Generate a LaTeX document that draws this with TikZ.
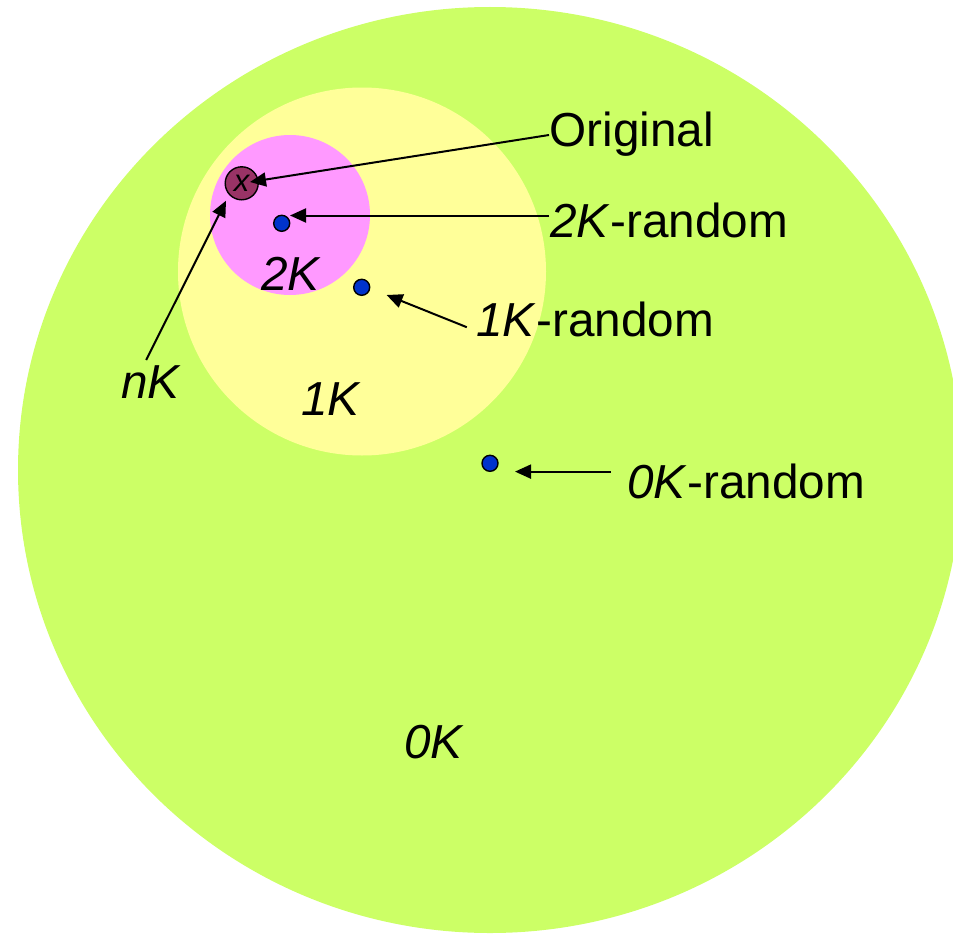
\documentclass[tikz,border=0pt]{standalone}
\usepackage{fontspec}
\setmainfont{Liberation Sans}
\usetikzlibrary{arrows.meta}
\definecolor{zoneO}{HTML}{CCFF66}
\definecolor{zoneI}{HTML}{FFFF99}
\definecolor{zoneII}{HTML}{FF99FF}
\definecolor{origfill}{HTML}{993366}
\definecolor{dotblue}{HTML}{0033CC}
\tikzset{
  lbl/.style={inner sep=0pt, anchor=base west, font=\fontsize{47.7}{57}\selectfont},
  sample/.style={circle, draw=black, line width=1.4pt, fill=dotblue, minimum size=16pt, inner sep=0pt},
  pointer/.style={draw=black, line width=2pt, -{Triangle[length=16pt,width=14pt]}},
}
\begin{document}
\begin{tikzpicture}[x=1pt,y=-1pt]
  \useasboundingbox (0,0) rectangle (953,934);
  \begin{scope}
    \clip (0,0) rectangle (953,934);
    % nested neighbourhoods
    \fill[zoneO] (490,470) ellipse [x radius=472, y radius=463];
    \fill[zoneI] (362,271.5) circle [radius=184];
    \fill[zoneII] (290,215) circle [radius=80];
  \end{scope}

  % original point and random samples
  \node[circle, draw=black, line width=1.4pt, fill=origfill, minimum size=33pt, inner sep=0pt,
        font=\fontsize{31}{34}\selectfont\itshape] (orig) at (241.7,183.3) {x};
  \node[sample] (r2) at (281.7,223.3) {};
  \node[sample] (r1) at (361.7,287.3) {};
  \node[sample] (r0) at (490,463.3) {};

  % zone names
  \node[lbl] (z2) at (261,290.7) {\itshape 2K};
  \node[lbl] (z1) at (301,415.7) {\itshape 1K};
  \node[lbl] (z0) at (404,758.6) {\itshape 0K};

  % callouts
  \node[lbl] (tOrig) at (549.5,146.7) {Original};
  \node[lbl] (t2) at (550,237.7) {\textit{2K}-random};
  \node[lbl] (t1) at (476,336.3) {\textit{1K}-random};
  \node[lbl] (t0) at (627,498.4) {\textit{0K}-random};
  \node[lbl] (tn) at (121,398.8) {\itshape nK};

  % connector end points
  \coordinate (sOrig) at (549,135);
  \coordinate (eOrig) at (250,182);
  \coordinate (s2) at (549,215.5);
  \coordinate (e2) at (290,215.5);
  \coordinate (s1) at (466.8,327.2);
  \coordinate (e1) at (386.6,295);
  \coordinate (s0) at (610.7,471.6);
  \coordinate (e0) at (515,471.6);
  \coordinate (sn) at (146.2,360);
  \coordinate (en) at (226,200.7);

  \draw[pointer] (sOrig) -- (eOrig);
  \draw[pointer] (s2) -- (e2);
  \draw[pointer] (s1) -- (e1);
  \draw[pointer] (s0) -- (e0);
  \draw[pointer] (sn) -- (en);
\end{tikzpicture}
\end{document}
